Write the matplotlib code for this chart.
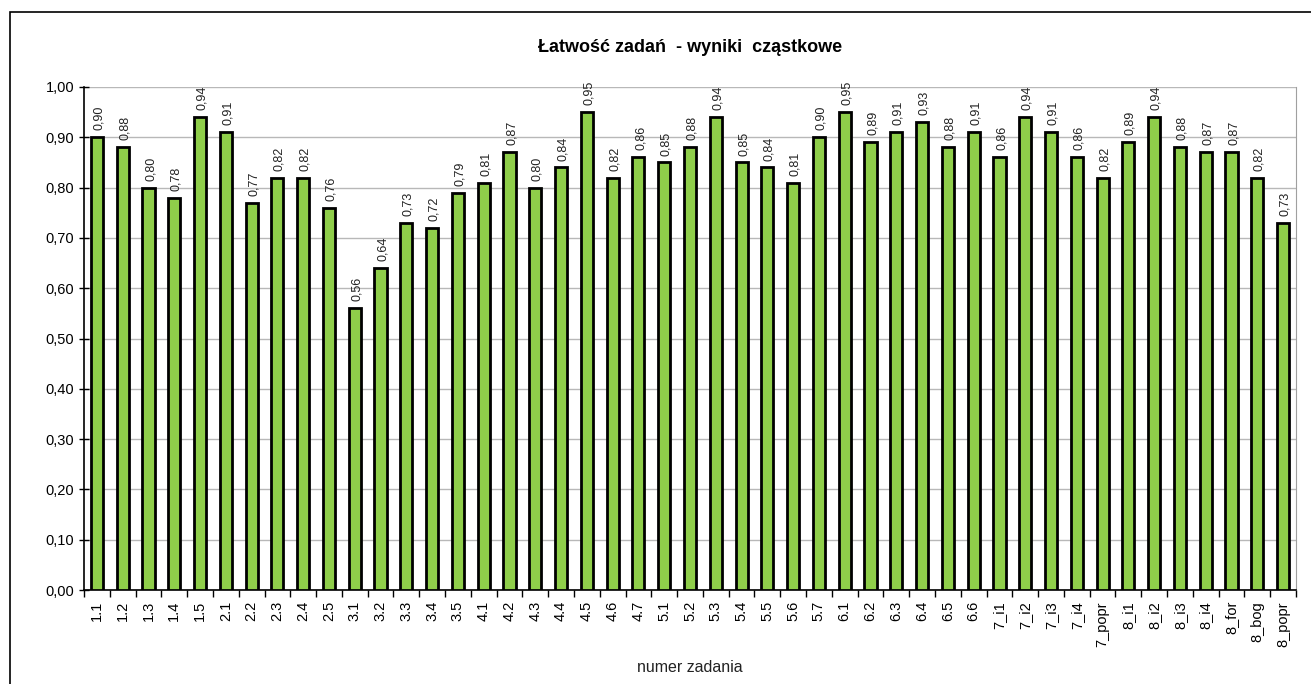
import matplotlib
matplotlib.use("Agg")
import matplotlib.pyplot as plt
from matplotlib.patches import Rectangle
from matplotlib.ticker import FixedLocator, FuncFormatter

plt.rcParams['font.family'] = ['Liberation Sans', 'DejaVu Sans']

categories = ["1.1", "1.2", "1.3", "1.4", "1.5", "2.1", "2.2", "2.3", "2.4", "2.5",
              "3.1", "3.2", "3.3", "3.4", "3.5", "4.1", "4.2", "4.3", "4.4", "4.5",
              "4.6", "4.7", "5.1", "5.2", "5.3", "5.4", "5.5", "5.6", "5.7", "6.1",
              "6.2", "6.3", "6.4", "6.5", "6.6", "7_i1", "7_i2", "7_i3", "7_i4", "7_popr",
              "8_i1", "8_i2", "8_i3", "8_i4", "8_for", "8_bog", "8_popr"]
values = [0.90, 0.88, 0.80, 0.78, 0.94, 0.91, 0.77, 0.82, 0.82, 0.76,
          0.56, 0.64, 0.73, 0.72, 0.79, 0.81, 0.87, 0.80, 0.84, 0.95,
          0.82, 0.86, 0.85, 0.88, 0.94, 0.85, 0.84, 0.81, 0.90, 0.95,
          0.89, 0.91, 0.93, 0.88, 0.91, 0.86, 0.94, 0.91, 0.86, 0.82,
          0.89, 0.94, 0.88, 0.87, 0.87, 0.82, 0.73]
y_ticks = [0.0, 0.1, 0.2, 0.3, 0.4, 0.5, 0.6, 0.7, 0.8, 0.9, 1.0]

fig = plt.figure(figsize=(13.11, 6.84), dpi=100)
ax = fig.add_axes([84/1311, 1-590/684, (1296-84)/1311, (590-87)/684])

# outer chart border
fig.patches.append(Rectangle((10/1311, -0.01), 1.0, 1-12/684 + 0.01,
                             transform=fig.transFigure, fill=False,
                             edgecolor='black', linewidth=1.2))

x = list(range(len(categories)))
ax.bar(x, values, width=0.47, color='#8fce4a', edgecolor='black', linewidth=2.0, zorder=3)

for xi, v in zip(x, values):
    ax.annotate(f"{v:.2f}".replace('.', ','), (xi, v), xytext=(1.5, 5),
                textcoords='offset points', rotation=90, ha='center', va='bottom',
                fontsize=9, color='#222222')

ax.set_xlim(-0.5, len(categories) - 0.5)
ax.set_ylim(0, 1.0)
ax.set_yticks(y_ticks)
ax.yaxis.set_major_formatter(FuncFormatter(lambda v, p: f"{v:.2f}".replace('.', ',')))
ax.tick_params(axis='y', direction='inout', length=7, width=1, labelsize=10.5, colors='black')
ax.grid(axis='y', color='#b8b8b8', linewidth=1, zorder=0)
ax.set_axisbelow(True)

ax.set_xticks(x)
ax.set_xticklabels(categories, rotation=90, fontsize=10.5)
ax.tick_params(axis='x', which='major', length=0, pad=8)
ax.xaxis.set_minor_locator(FixedLocator([i - 0.5 for i in range(len(categories) + 1)]))
ax.tick_params(axis='x', which='minor', direction='out', length=5, width=1)

for s in ['left', 'bottom']:
    ax.spines[s].set_color('black')
    ax.spines[s].set_linewidth(1.2)
ax.spines['top'].set_visible(False)
ax.spines['right'].set_color('#a0a0a0')

ax.set_xlabel("numer zadania", fontsize=11.5, labelpad=10, color='#222222')
fig.text(690/1311, 1-47/684, "Łatwość zadań  - wyniki  cząstkowe", ha='center', va='center',
         fontsize=13, fontweight='bold')

fig.savefig("out.png", dpi=100)
